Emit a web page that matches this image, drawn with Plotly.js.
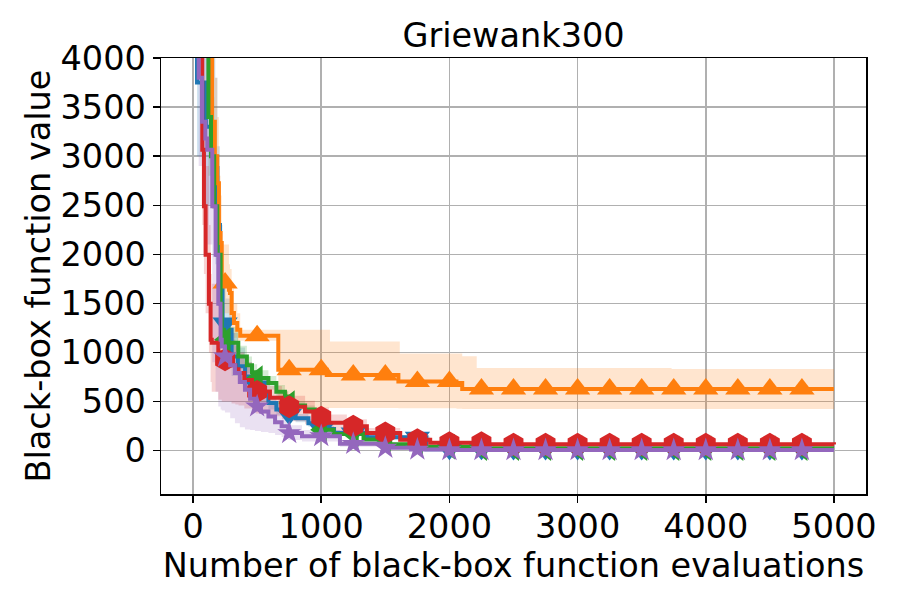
<!DOCTYPE html>
<html>
<head>
<meta charset="utf-8">
<script src="https://cdn.plot.ly/plotly-3.0.1.min.js"></script>
<style>html,body{margin:0;padding:0;background:#fff;}#chart{width:900px;height:600px;}</style>
</head>
<body>
<div id="chart"></div>
<script>
// ---- data ----
const markerX = [250, 500, 750, 1000, 1250, 1500, 1750, 2000, 2250, 2500, 2750, 3000, 3250, 3500, 3750, 4000, 4250, 4500, 4750];

const blueX  = [20, 31, 100, 163, 174, 190, 210, 230, 254, 301, 350, 406, 460, 509, 588, 650, 717, 800, 900, 1000, 1100, 1356, 1821, 2500, 5000];
const blueM  = [9000, 3750, 3300, 3000, 2880, 2300, 1700, 1300, 1232, 960, 860, 757, 660, 588, 486, 420, 370, 330, 280, 220, 180, 137, 15, 12, 12];
const blueLo = [8000, 3000, 2500, 2100, 1900, 1600, 1200, 1000, 950, 760, 690, 620, 560, 500, 420, 365, 320, 290, 245, 190, 155, 115, 5, 3, 3];
const blueHi = [9900, 5000, 4600, 4000, 3800, 3100, 2300, 1700, 1550, 1200, 1050, 900, 770, 680, 560, 480, 420, 375, 320, 255, 210, 160, 28, 22, 22];

const orangeX  = [20, 135, 148, 170, 189, 202, 215, 224, 280, 288, 301, 319, 345, 368, 665, 1043, 1068, 1602, 1613, 2055, 2100, 2213, 3733, 5000];
const orangeM  = [9000, 4000, 3350, 3000, 2725, 2217, 2115, 1708, 1640, 1606, 1402, 1300, 1232, 1171, 825, 770, 770, 706, 706, 690, 628, 628, 628, 628];
const orangeLo = [8000, 3300, 2800, 2500, 2200, 1800, 1700, 1400, 1350, 1300, 1200, 1150, 1120, 1120, 435, 435, 435, 432, 432, 428, 425, 425, 425, 425];
const orangeHi = [9900, 5000, 4300, 3800, 3400, 2800, 2600, 2100, 1900, 1850, 1650, 1500, 1400, 1232, 1232, 1232, 1113, 1113, 990, 990, 961, 842, 832, 832];

const greenX  = [20, 105, 120, 140, 165, 189, 215, 224, 241, 275, 353, 420, 460, 500, 588, 650, 717, 743, 800, 874, 950, 1000, 1096, 1330, 1538, 1772, 2200, 5000];
const greenM  = [9000, 4200, 3400, 3000, 2490, 1996, 1497, 1232, 1130, 1100, 960, 870, 800, 740, 689, 600, 553, 486, 460, 420, 300, 214, 170, 115, 65, 40, 25, 25];
const greenLo = [8000, 3500, 2800, 2500, 2100, 1700, 1300, 1080, 1000, 980, 860, 790, 720, 670, 620, 540, 500, 440, 420, 380, 270, 190, 150, 100, 50, 28, 15, 15];
const greenHi = [9900, 5200, 4200, 3600, 3000, 2400, 1800, 1450, 1300, 1260, 1070, 960, 880, 820, 760, 670, 610, 540, 505, 460, 330, 240, 190, 130, 80, 52, 35, 35];

const redX  = [20, 72, 85, 98, 124, 137, 146, 197, 224, 260, 300, 330, 355, 400, 460, 490, 600, 693, 740, 874, 950, 1060, 1200, 1356, 1616, 1850, 2300, 5000];
const redM  = [9000, 3065, 2490, 1996, 1497, 1130, 1100, 1000, 927, 900, 870, 830, 791, 720, 655, 604, 540, 485, 448, 400, 340, 285, 250, 180, 112, 80, 65, 62];
const redLo = [8000, 2300, 1800, 1400, 1000, 700, 600, 520, 500, 500, 480, 470, 460, 430, 400, 380, 350, 320, 300, 270, 240, 200, 180, 130, 80, 60, 48, 45];
const redHi = [9900, 4200, 3500, 2900, 2300, 1800, 1700, 1500, 1300, 1200, 1130, 1070, 1000, 900, 800, 740, 660, 600, 560, 510, 440, 370, 320, 230, 145, 100, 82, 80];

const purpleX  = [20, 44, 70, 96, 111, 150, 176, 197, 215, 224, 249, 290, 327, 365, 405, 445, 483, 530, 588, 640, 691, 743, 850, 1146, 1483, 1700, 2000, 5000];
const purpleM  = [9000, 3800, 3350, 3180, 3065, 2490, 1996, 1497, 1130, 1062, 960, 870, 791, 700, 621, 530, 451, 400, 349, 290, 248, 180, 148, 70, 30, 12, 6, 6];
const purpleLo = [8000, 2900, 2500, 2300, 2100, 900, 600, 450, 420, 410, 390, 330, 280, 240, 215, 210, 200, 190, 180, 160, 140, 110, 95, 40, 12, 3, -2, -2];
const purpleHi = [9900, 4800, 4300, 4100, 4000, 3300, 2700, 2100, 1600, 1500, 1350, 1200, 1080, 950, 850, 740, 640, 570, 500, 420, 360, 260, 210, 100, 48, 22, 14, 14];

// ---- styling ----
const FONT = 'DejaVu Sans, sans-serif';
const FS = 33.5;
const series = [
  {x: blueX, m: blueM, lo: blueLo, hi: blueHi, color: '#1f77b4', fill: 'rgba(31,119,180,0.2)', symbol: 'triangle-down', size: 22},
  {x: orangeX, m: orangeM, lo: orangeLo, hi: orangeHi, color: '#ff7f0e', fill: 'rgba(255,127,14,0.2)', symbol: 'triangle-up', size: 22},
  {x: greenX, m: greenM, lo: greenLo, hi: greenHi, color: '#2ca02c', fill: 'rgba(44,160,44,0.2)', symbol: 'triangle-left', size: 22},
  {x: redX, m: redM, lo: redLo, hi: redHi, color: '#d62728', fill: 'rgba(214,39,40,0.2)', symbol: 'hexagon', size: 23},
  {x: purpleX, m: purpleM, lo: purpleLo, hi: purpleHi, color: '#9467bd', fill: 'rgba(148,103,189,0.2)', symbol: 'star', size: 18}
];

function stepAt(xs, ys, x) {
  let v = ys[0];
  for (let i = 0; i < xs.length; i++) { if (xs[i] <= x) v = ys[i]; }
  return v;
}

const traces = [];
series.forEach(s => {
  traces.push({x: s.x, y: s.lo, mode: 'lines', line: {width: 0, shape: 'hv'}, hoverinfo: 'skip', showlegend: false});
  traces.push({x: s.x, y: s.hi, mode: 'lines', line: {width: 0, shape: 'hv'}, fill: 'tonexty', fillcolor: s.fill, hoverinfo: 'skip', showlegend: false});
});
series.forEach(s => {
  traces.push({x: s.x, y: s.m, mode: 'lines', line: {width: 4, shape: 'hv', color: s.color}, showlegend: false});
  traces.push({x: markerX, y: markerX.map(v => stepAt(s.x, s.m, v)), mode: 'markers',
    marker: {symbol: s.symbol, size: s.size, color: s.color, line: {width: 0}}, showlegend: false});
});

const axisCommon = {
  showline: true, mirror: true, linecolor: '#000', linewidth: 1.5,
  ticks: 'outside', ticklen: 7, tickwidth: 1.5, tickcolor: '#000',
  showgrid: true, gridcolor: '#b0b0b0', gridwidth: 1.5, zeroline: false,
  tickfont: {family: FONT, size: FS, color: '#000'}, automargin: false
};

const layout = {
  width: 900, height: 600,
  paper_bgcolor: '#fff', plot_bgcolor: '#fff',
  margin: {l: 161, r: 34, t: 58, b: 106},
  showlegend: false,
  title: {text: 'Griewank300', font: {family: FONT, size: FS, color: '#000'}, x: 0.5, xref: 'paper', y: 0.942, yref: 'container', yanchor: 'middle'},
  xaxis: Object.assign({}, axisCommon, {range: [-250, 5250], tick0: 0, dtick: 1000, ticklabelstandoff: -5,
    title: {text: 'Number of black-box function evaluations', font: {family: FONT, size: FS, color: '#000'}, standoff: 2}}),
  yaxis: Object.assign({}, axisCommon, {range: [-441, 4000], tick0: 0, dtick: 500,
    title: {text: 'Black-box function value', font: {family: FONT, size: FS, color: '#000'}, standoff: 0}})
};

Plotly.newPlot('chart', traces, layout, {displayModeBar: false, staticPlot: true});
</script>
</body>
</html>
